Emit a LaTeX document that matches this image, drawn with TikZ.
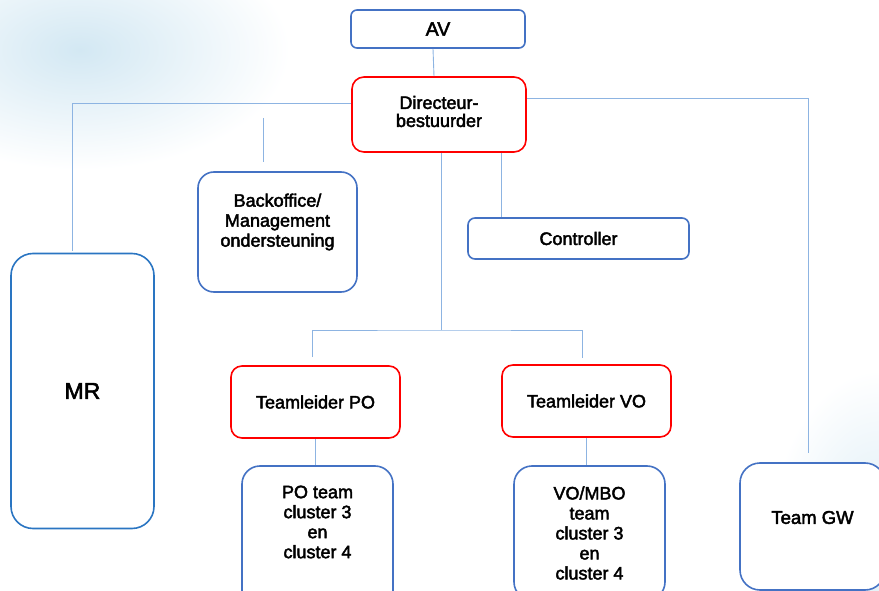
\documentclass[tikz,border=0pt]{standalone}
\usepackage{fontspec}
\setmainfont{Liberation Sans}[BoldFont=Liberation Sans, BoldFeatures={FakeBold=2.4}]
\definecolor{boxblue}{HTML}{4472C4}
\definecolor{mrblue}{HTML}{2A75C2}
\definecolor{boxred}{HTML}{FF0000}
\definecolor{linkblue}{HTML}{8DB4E2}
\definecolor{haze}{HTML}{D3E8F3}
\begin{document}
\begin{tikzpicture}[x=1pt, y=-1pt,
    box/.style={draw=boxblue, line width=1.6pt, fill=white, rounded corners=#1,
      align=center, inner sep=0pt, font=\fontsize{18}{20}\selectfont\bfseries},
    box/.default=8pt,
    lead/.style={box=#1, draw=boxred},
    boxtext/.style={align=center, font=\fontsize{18}{20}\selectfont\bfseries},
    conn/.style={draw=linkblue, line width=0.9pt}]
    \useasboundingbox (0,0) rectangle (879,591);

    % faded background
    \shade[inner color=haze, outer color=white] (80,50) ellipse [x radius=210pt, y radius=120pt];
    \shade[inner color=haze!80, outer color=white] (880,540) ellipse [x radius=110pt, y radius=170pt];

    % boxes
    \node[box=6pt, minimum width=174pt, minimum height=38pt,
      font=\fontsize{19.5}{20}\selectfont\bfseries] (av) at (438,29) {AV};
    \node[lead=12pt, minimum width=174pt, minimum height=75pt,
      label={[name=dirtxt, boxtext, yshift=3pt, font=\fontsize{18}{18}\selectfont\bfseries]center:Directeur-\\bestuurder}]
      (dir) at (439,114.5) {};
    \node[box=16pt, minimum width=159pt, minimum height=120pt,
      label={[name=backtxt, boxtext, yshift=10pt]center:Backoffice/\\Management\\ondersteuning}]
      (back) at (277.5,232) {};
    \node[box=7pt, minimum width=221pt, minimum height=41pt] (ctrl) at (578.5,238.5) {Controller};
    \node[box=22pt, draw=mrblue, minimum width=143pt, minimum height=275pt,
      font=\fontsize{23}{24}\selectfont\bfseries] (mr) at (82.5,391) {MR};
    \node[lead=11pt, minimum width=169pt, minimum height=72pt] (tpo) at (315.5,402) {Teamleider PO};
    \node[lead=11pt, minimum width=169pt, minimum height=72pt] (tvo) at (586.5,401) {Teamleider VO};
    \node[box=18pt, minimum width=151pt, minimum height=149pt,
      label={[name=potxt, boxtext, yshift=18.5pt]center:PO team\\cluster 3\\en\\cluster 4}]
      (potm) at (317.5,540.5) {};
    \node[box=18pt, minimum width=151pt, minimum height=134pt] (votm) at (589.5,533)
      {VO/MBO\\team\\cluster 3\\en\\cluster 4};
    \node[box=20pt, minimum width=145pt, minimum height=127pt,
      label={[name=gwtxt, boxtext, yshift=9pt, font=\fontsize{18.5}{20}\selectfont\bfseries]center:Team GW}]
      (gw) at (812.5,526.5) {};

    % free line ends
    \coordinate (mrin) at (72,251);
    \coordinate (backa) at (263,118);
    \coordinate (backb) at (263,162);
    \coordinate (gwin) at (808,453);
    \coordinate (ctrlx) at (501,0);
    \coordinate (split) at (441,330);
    \coordinate (tpoin) at (312,357);
    \coordinate (tvoin) at (582,358);

    % connectors
    \draw[conn] ([xshift=-5pt]av.south) -- ([xshift=-5pt]dir.north);
    \draw[conn] ([yshift=11.5pt]dir.west) -| (mrin);
    \draw[conn] (backa) -- (backb);
    \draw[conn] ([yshift=16.5pt]dir.east) -| (gwin);
    \draw[conn] (dir.south -| ctrlx) -- (ctrl.north -| ctrlx);
    \draw[conn] (dir.south -| split) -- (split);
    \draw[conn] (tpoin) |- (split) -| (tvoin);
    \draw[conn] (tpo.south) -- (tpo.south |- potm.north);
    \draw[conn] (tvo.south) -- (tvo.south |- votm.north);
\end{tikzpicture}
\end{document}
